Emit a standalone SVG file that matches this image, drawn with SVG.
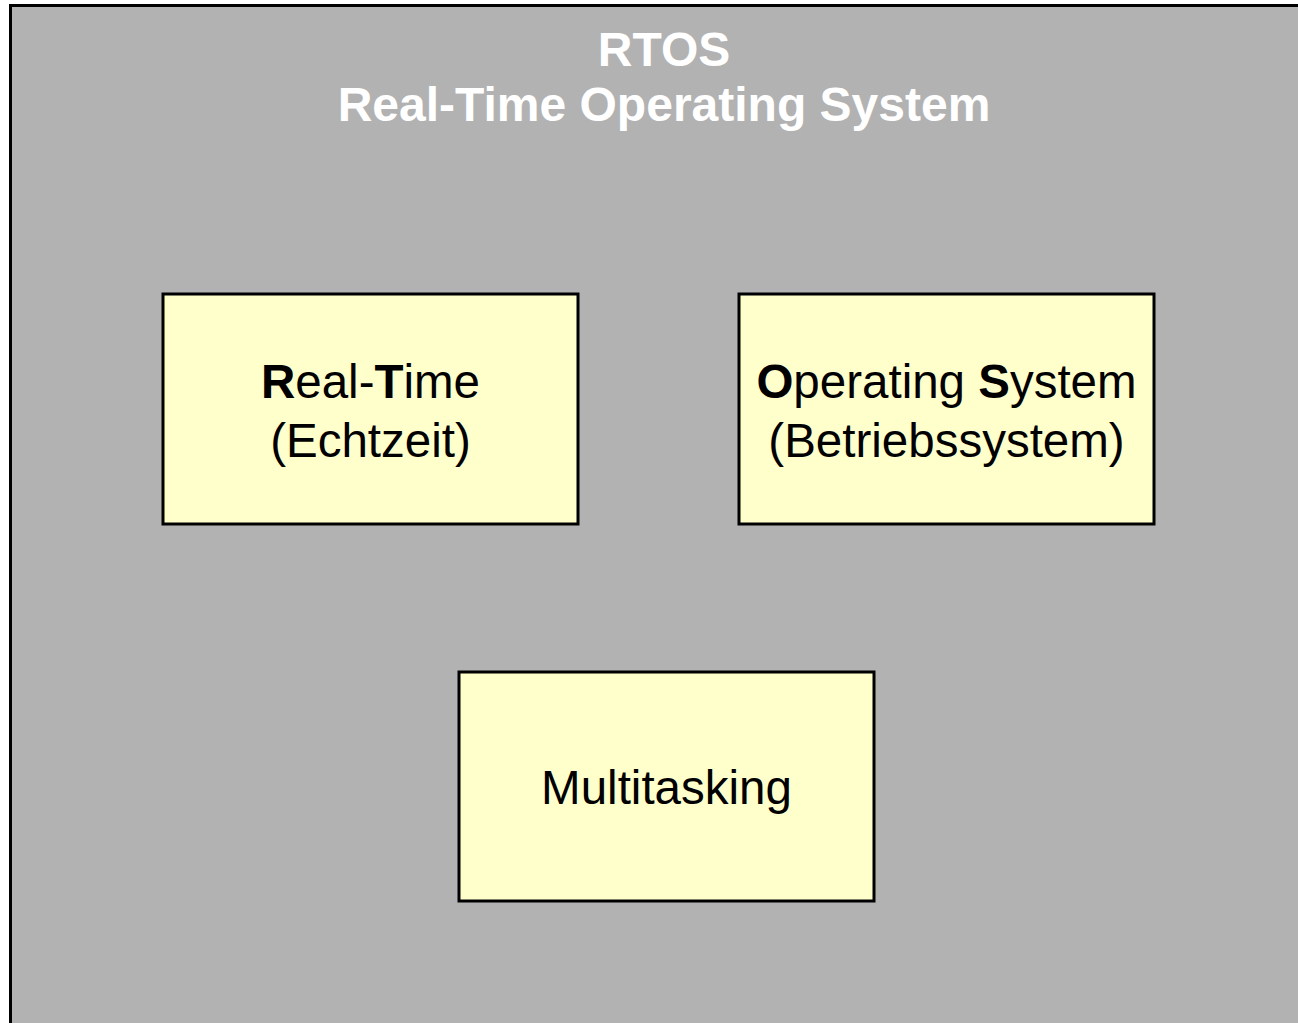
<svg xmlns="http://www.w3.org/2000/svg" width="1298" height="1023" viewBox="0 0 1298 1023">
<style>
.box{fill:#ffffcc;stroke:#000;stroke-width:3}
.t{font-family:"Liberation Sans",Arial,sans-serif;font-size:47.5px;fill:#000;text-anchor:middle}
.title{font-family:"Liberation Sans",Arial,sans-serif;font-size:48px;font-weight:bold;fill:#fff;text-anchor:middle}
.b{font-weight:bold}
</style>
<rect width="1298" height="1023" fill="#ffffff"/>
<g id="rtos">
<rect x="10.5" y="5.5" width="1310" height="1040" fill="#b2b2b2" stroke="#000" stroke-width="3"/>
<text class="title" x="664" y="66">RTOS</text>
<text class="title" x="664" y="121">Real-Time Operating System</text>
</g>
<g id="realtime">
<rect class="box" x="163" y="294" width="415" height="230"/>
<text class="t" x="370.5" y="398"><tspan class="b">R</tspan>eal-<tspan class="b">T</tspan>ime</text>
<text class="t" x="370.5" y="457">(Echtzeit)</text>
</g>
<g id="os">
<rect class="box" x="739" y="294" width="415" height="230"/>
<text class="t" x="946.5" y="398"><tspan class="b">O</tspan>perating <tspan class="b">S</tspan>ystem</text>
<text class="t" x="946.5" y="457">(Betriebssystem)</text>
</g>
<g id="multitasking">
<rect class="box" x="459" y="672" width="415" height="229"/>
<text class="t" x="666.5" y="804">Multitasking</text>
</g>
<g id="connectors"></g>
</svg>
